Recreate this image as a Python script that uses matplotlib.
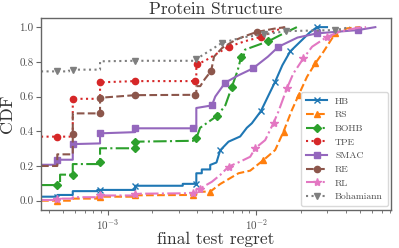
import numpy as np
import matplotlib
matplotlib.use("Agg")
import matplotlib.pyplot as plt

plt.rcParams['font.family'] = ['cmr10', 'DejaVu Serif']
plt.rcParams['mathtext.fontset'] = 'cm'
plt.rcParams['axes.formatter.use_mathtext'] = True

# ===== 数据：每种方法的 CDF 曲线 (x: final test regret, y: CDF) =====
hb_x = [3.55e-4, 4.57e-4, 4.57e-4, 5.81e-4, 5.81e-4, 8.5e-4, 8.5e-4, 8.87e-4, 1.53e-3, 1.53e-3,
        3.2e-3, 3.2e-3, 3.95e-3, 3.95e-3, 4.3e-3, 4.3e-3, 4.9e-3, 4.9e-3, 5.4e-3, 5.72e-3,
        6.51e-3, 7.8e-3, 8.65e-3, 9.35e-3, 1.076e-2, 1.2e-2, 1.343e-2, 1.5e-2, 1.695e-2,
        2.03e-2, 2.3e-2, 2.57e-2, 3.0e-2]
hb_y = [0.023, 0.023, 0.033, 0.033, 0.055, 0.055, 0.062, 0.062, 0.062, 0.086,
        0.086, 0.097, 0.097, 0.158, 0.158, 0.18, 0.18, 0.206, 0.22, 0.29,
        0.34, 0.37, 0.42, 0.446, 0.516, 0.60, 0.686, 0.78, 0.86,
        0.925, 0.97, 1.0, 1.0]
hb_mk = [1, 7, 9, 12, 19, 24, 26, 28, 31]

rs_x = [3.55e-4, 4.57e-4, 5.81e-4, 5.81e-4, 8.5e-4, 8.5e-4, 8.87e-4, 1.53e-3, 1.53e-3, 3.76e-3,
        3.95e-3, 3.95e-3, 4.9e-3, 5.72e-3, 7.6e-3, 9.11e-3, 1.12e-2, 1.343e-2, 1.528e-2,
        1.74e-2, 1.93e-2, 2.2e-2, 2.5e-2, 2.84e-2, 3.41e-2, 4.09e-2, 5.03e-2]
rs_y = [0.0, 0.0, 0.0, 0.012, 0.012, 0.023, 0.023, 0.023, 0.031, 0.033,
        0.033, 0.052, 0.052, 0.096, 0.158, 0.173, 0.234, 0.292, 0.398,
        0.522, 0.608, 0.714, 0.791, 0.858, 0.964, 0.993, 1.0]
rs_mk = [1, 6, 8, 9, 12, 16, 18, 20, 22, 24]

bohb_x = [3.55e-4, 4.57e-4, 4.77e-4, 4.77e-4, 5.81e-4, 5.81e-4, 8.6e-4, 8.87e-4, 8.87e-4, 1.53e-3,
          1.53e-3, 3.76e-3, 3.95e-3, 4.19e-3, 5.48e-3, 6.2e-3, 6.86e-3, 7.5e-3, 7.92e-3,
          8.21e-3, 8.4e-3, 1.21e-2, 1.5e-2, 1.88e-2]
bohb_y = [0.09, 0.09, 0.09, 0.15, 0.15, 0.211, 0.211, 0.221, 0.302, 0.302,
          0.34, 0.345, 0.36, 0.42, 0.49, 0.55, 0.656, 0.75, 0.829,
          0.829, 0.87, 0.919, 0.96, 1.0]
bohb_mk = [1, 4, 7, 9, 10, 12, 14, 16, 18, 21]

tpe_x = [3.55e-4, 4.57e-4, 5.81e-4, 5.81e-4, 8.87e-4, 8.87e-4, 1.53e-3, 3.88e-3, 3.95e-3, 3.95e-3,
         4.0e-3, 4.6e-3, 5.5e-3, 6.51e-3, 8.5e-3, 1.08e-2, 1.3e-2, 1.57e-2]
tpe_y = [0.369, 0.369, 0.369, 0.587, 0.587, 0.682, 0.689, 0.689, 0.689, 0.785,
         0.785, 0.81, 0.85, 0.887, 0.92, 0.944, 0.975, 1.0]
tpe_mk = [1, 3, 5, 6, 7, 10, 13, 15]

smac_x = [3.55e-4, 4.57e-4, 4.57e-4, 5.81e-4, 5.81e-4, 8.87e-4, 8.87e-4, 1.53e-3, 1.53e-3, 3.76e-3,
          3.95e-3, 3.95e-3, 5.03e-3, 5.3e-3, 6.18e-3, 7.5e-3, 9.5e-3, 1.2e-2, 1.413e-2,
          1.9e-2, 2.57e-2, 3.7e-2, 4.85e-2, 6.35e-2]
smac_y = [0.207, 0.207, 0.236, 0.236, 0.326, 0.33, 0.388, 0.395, 0.417, 0.417,
          0.417, 0.534, 0.549, 0.60, 0.68, 0.72, 0.762, 0.83, 0.887,
          0.94, 0.964, 0.975, 0.983, 1.0]
smac_mk = [2, 4, 6, 8, 9, 12, 14, 16, 18, 20, 22]

re_x = [3.55e-4, 4.57e-4, 4.57e-4, 5.81e-4, 5.81e-4, 5.81e-4, 8.87e-4, 8.87e-4, 1.53e-3, 3.88e-3,
        3.95e-3, 3.95e-3, 4.2e-3, 4.5e-3, 4.97e-3, 5.2e-3, 5.9e-3, 7.2e-3, 8.5e-3,
        1.01e-2, 1.3e-2, 1.57e-2]
re_y = [0.2, 0.2, 0.267, 0.267, 0.382, 0.503, 0.503, 0.593, 0.608, 0.61,
        0.61, 0.66, 0.66, 0.70, 0.747, 0.83, 0.88, 0.925, 0.95,
        0.972, 0.99, 1.0]
re_mk = [4, 6, 7, 8, 9, 14, 19]

rl_x = [3.55e-4, 4.57e-4, 4.57e-4, 5.81e-4, 5.81e-4, 8.5e-4, 8.5e-4, 8.87e-4, 1.53e-3, 1.53e-3,
        3.76e-3, 3.95e-3, 3.95e-3, 4.19e-3, 5.03e-3, 5.72e-3, 6.51e-3, 7.8e-3, 9.11e-3,
        9.85e-3, 1.15e-2, 1.31e-2, 1.41e-2, 1.61e-2, 1.78e-2, 2.08e-2, 2.38e-2, 3.0e-2,
        3.68e-2, 4.85e-2, 5.5e-2]
rl_y = [0.004, 0.004, 0.012, 0.012, 0.02, 0.02, 0.03, 0.03, 0.03, 0.04,
        0.043, 0.043, 0.066, 0.07, 0.109, 0.148, 0.196, 0.225, 0.253,
        0.302, 0.349, 0.449, 0.512, 0.647, 0.733, 0.82, 0.887, 0.944,
        0.975, 0.996, 1.0]
rl_mk = [2, 7, 9, 10, 13, 16, 19, 21, 23, 25, 27]

boh_x = [3.55e-4, 4.57e-4, 5.48e-4, 5.48e-4, 5.81e-4, 8.87e-4, 8.87e-4, 1.53e-3, 3.88e-3, 3.95e-3,
         4.2e-3, 5.9e-3, 8.0e-3, 1.132e-2, 1.59e-2, 3.41e-2, 4.3e-2]
boh_y = [0.745, 0.745, 0.745, 0.755, 0.755, 0.755, 0.803, 0.806, 0.806, 0.815,
         0.83, 0.91, 0.94, 0.958, 0.977, 0.983, 1.0]
boh_mk = [1, 4, 7, 9, 11, 13, 14, 15]

methods = ["HB", "RS", "BOHB", "TPE", "SMAC", "RE", "RL", "Bohamiann"]
xs = [hb_x, rs_x, bohb_x, tpe_x, smac_x, re_x, rl_x, boh_x]
ys = [hb_y, rs_y, bohb_y, tpe_y, smac_y, re_y, rl_y, boh_y]
mks = [hb_mk, rs_mk, bohb_mk, tpe_mk, smac_mk, re_mk, rl_mk, boh_mk]

markers = ["x", "^", "D", "o", "s", "o", "*", "v"]
styles = ["-", "--", "-.", ":", "-", "--", "-.", ":"]
colors = ["C0", "C1", "C2", "C3", "C4", "C5", "C6", "C7"]

fig = plt.figure(figsize=(3.99, 2.48), dpi=100)
ax = fig.add_axes([0.1028, 0.1544, 0.8772, 0.7726])

for name, x, y, mk, m, ls, c in zip(methods, xs, ys, mks, markers, styles, colors):
    ax.plot(x, y, ls=ls, color=c, marker=m, markevery=mk, lw=1.5,
            markersize=4.5 if m != "*" else 6, label=name)

ax.set_xscale("log")
ax.set_xlim(3.55e-4, 8.1e-2)
ax.set_ylim(-0.052, 1.052)
ax.set_yticks([0.0, 0.2, 0.4, 0.6, 0.8, 1.0])
ax.set_yticklabels(["0.0", "0.2", "0.4", "0.6", "0.8", "1.0"])

for s in ax.spines.values():
    s.set_color("0.4")
    s.set_linewidth(1.0)
ax.tick_params(axis="both", which="major", direction="out", length=3.5, width=0.8,
               color="0.4", labelsize=8, labelcolor="0.3", pad=2)
ax.tick_params(axis="x", which="minor", direction="out", length=2, width=0.6, color="0.4")

ax.set_title("Protein Structure", fontsize=12.5, color="0.2", pad=3)
ax.set_xlabel("final test regret", fontsize=12.5, color="0.2", labelpad=0)
ax.set_ylabel("CDF", fontsize=13, color="0.2", labelpad=3)

leg = ax.legend(loc="lower right", fontsize=7, handlelength=2.2, labelspacing=0.5,
                borderpad=0.5, borderaxespad=0.35, framealpha=1.0, edgecolor="0.85",
                fancybox=True)
for t in leg.get_texts():
    t.set_color("0.3")

fig.savefig("out.png", dpi=100)
